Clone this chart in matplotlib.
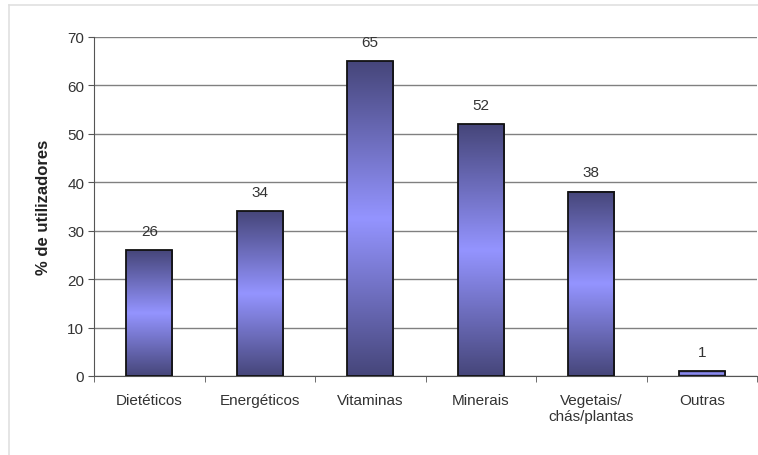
import numpy as np
import matplotlib.pyplot as plt
from matplotlib.colors import LinearSegmentedColormap
from matplotlib.patches import Rectangle

plt.rcParams['font.family'] = ['Liberation Sans', 'DejaVu Sans']

categorias = ['Dietéticos', 'Energéticos', 'Vitaminas', 'Minerais', 'Vegetais/\nchás/plantas', 'Outras']
utilizadores = [26, 34, 65, 52, 38, 1]

# dark at the ends, light in the middle of each bar
cmap = LinearSegmentedColormap.from_list('barra', ['#46467a', '#9494ff', '#46467a'])
grad = np.linspace(0, 1, 256).reshape(-1, 1)

fig = plt.figure(figsize=(7.58, 4.56), dpi=100)
ax = fig.add_axes([94/758, 79/456, 663/758, 339/456])

# light frame round the chart
fig.add_artist(plt.Line2D([9/758, 9/758], [0, 450/456], color='#e0e0e0', lw=1.2))
fig.add_artist(plt.Line2D([9/758, 1], [450/456, 450/456], color='#e0e0e0', lw=1.2))

x = np.arange(len(categorias))
w = 0.42
for xi, v in zip(x, utilizadores):
    ax.imshow(grad, cmap=cmap, aspect='auto', extent=(xi - w/2, xi + w/2, 0, v), zorder=3)
    ax.add_patch(Rectangle((xi - w/2, 0), w, v, fill=False, ec='#111111', lw=1.3, zorder=4))
    ax.annotate(str(v), (xi, v), xytext=(0, 9), textcoords='offset points',
                ha='center', va='bottom', fontsize=11, color='#333333')

ax.set_xlim(-0.5, len(categorias) - 0.5)
ax.set_ylim(0, 70)
ax.set_yticks(range(0, 71, 10))
ax.set_xticks(x)
ax.set_xticklabels(categorias)
ax.set_xticks(np.arange(-0.5, len(categorias)), minor=True)
ax.tick_params(axis='x', which='major', length=0, pad=12, labelsize=11, labelcolor='#333333')
ax.tick_params(axis='x', which='minor', length=4, color='#555555')
ax.tick_params(axis='y', length=4, color='#555555', labelsize=11, labelcolor='#333333', pad=3)

ax.grid(axis='y', color='#808080', lw=1.0, zorder=0)
ax.set_axisbelow(True)
for s in ['top', 'right']:
    ax.spines[s].set_visible(False)
ax.spines['left'].set_color('#555555')
ax.spines['bottom'].set_color('#555555')

ax.set_ylabel('% de utilizadores', fontsize=12, fontweight='bold', color='#222222')
ax.yaxis.set_label_coords(-43/663, 0.5)

fig.savefig('out.png', dpi=100)
